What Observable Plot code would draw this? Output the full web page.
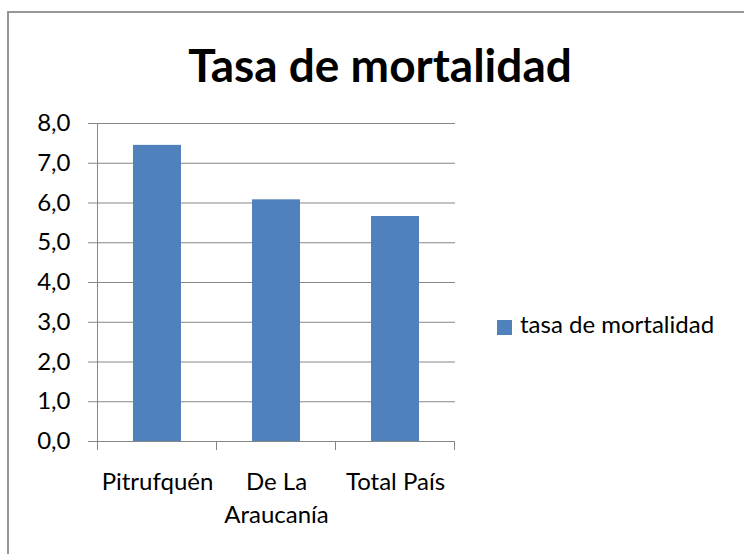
<!DOCTYPE html>
<html>
<head>
<meta charset="utf-8">
<script src="https://cdn.jsdelivr.net/npm/d3@7"></script>
<script src="https://cdn.jsdelivr.net/npm/@observablehq/plot@0.6"></script>
<style>
  html, body { margin: 0; padding: 0; background: #fff; }
  #wrap { position: relative; width: 744px; height: 554px; overflow: hidden; font-family: Lato, sans-serif; }
  #border { position: absolute; left: 7px; top: 11px; width: 800px; height: 600px; border: 2px solid #969696; box-sizing: border-box; }
  #title { position: absolute; left: 0; top: 36.6px; width: 760px; text-align: center; font-weight: 700; font-size: 46px; line-height: 55.2px; color: #000; }
  #chart { position: absolute; left: 0; top: 0; }
  #legend { position: absolute; left: 497px; top: 310.3px; height: 29px; font-size: 24px; line-height: 28.8px; color: #000; white-space: nowrap; }
  #legend .sw { position: absolute; left: 0; top: 9.7px; width: 15px; height: 15px; background: #4F81BD; }
  #legend .lab { position: absolute; left: 23px; top: 0; }
</style>
</head>
<body>
<div id="wrap">
  <div id="border"></div>
  <div id="chart"></div>
  <div id="title"></div>
  <div id="legend"><span class="sw"></span><span class="lab"></span></div>
</div>
<script>
const titleText = "Tasa de mortalidad";
const seriesName = "tasa de mortalidad";
const categories = ["Pitrufquén", "De La Araucanía", "Total País"];
const xTickLabels = ["Pitrufquén", "De La\nAraucanía", "Total País"];
const values = [7.45, 6.08, 5.66];
const yTicks = [0, 1, 2, 3, 4, 5, 6, 7, 8];

const barColor = "#4F81BD";
const axisColor = "#868686";

document.getElementById("title").textContent = titleText;
document.querySelector("#legend .lab").textContent = seriesName;

const data = categories.map((c, i) => ({category: c, value: values[i]}));
const labelOf = new Map(categories.map((c, i) => [c, xTickLabels[i]]));

// category boundary ticks + left axis line, drawn from the scales
function boundaryTicks(index, scales, values, dimensions) {
  const x = scales.x, y = scales.y;
  const step = x.step(), bw = x.bandwidth();
  const g = d3.create("svg:g").attr("stroke", axisColor).attr("stroke-width", 1);
  const xs = categories.map(c => x(c) + bw / 2 - step / 2);
  xs.push(x(categories[categories.length - 1]) + bw / 2 + step / 2);
  const y0 = y(yTicks[0]);
  for (const px of xs) {
    g.append("line").attr("x1", px).attr("x2", px).attr("y1", y0).attr("y2", y0 + 9);
  }
  const left = xs[0];
  g.append("line").attr("x1", left).attr("x2", left)
    .attr("y1", y(yTicks[yTicks.length - 1])).attr("y2", y0);
  return g.node();
}

const chart = Plot.plot({
  width: 744,
  height: 554,
  marginLeft: 96,
  marginRight: 289,
  marginTop: 123,
  marginBottom: 113,
  style: {fontFamily: "Lato, sans-serif", fontSize: "24px", color: "#000", background: "transparent"},
  x: {domain: categories, paddingInner: 0.6, paddingOuter: 0.3, label: null},
  y: {domain: [0, 8], label: null},
  marks: [
    Plot.gridY({ticks: yTicks, stroke: axisColor, strokeOpacity: 1, strokeWidth: 1}),
    Plot.barY(data, {x: "category", y: "value", fill: barColor}),
    Plot.axisY({ticks: yTicks, tickSize: 8, tickPadding: 18, stroke: axisColor, fill: "#000",
      tickFormat: d => d.toFixed(1).replace(".", ","), fontSize: 24, label: null}),
    Plot.axisX({tickSize: 0, tickPadding: 25, fill: "#000", tickFormat: d => labelOf.get(d),
      fontSize: 24, lineHeight: 1.375, label: null}),
    boundaryTicks
  ]
});
document.getElementById("chart").appendChild(chart);
</script>
</body>
</html>
